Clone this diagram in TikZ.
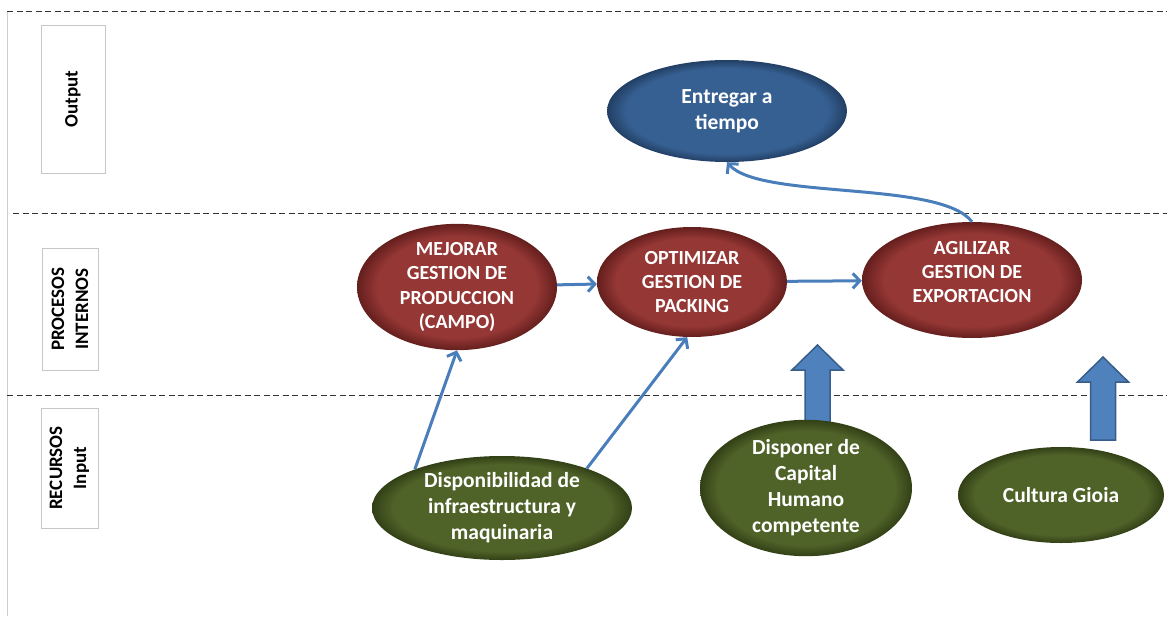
\documentclass[tikz,border=0pt]{standalone}
\usepackage{fontspec}
\setmainfont{Carlito}
\usepackage{tikz}
\usetikzlibrary{shapes.geometric,arrows.meta}
\definecolor{redmain}{RGB}{149,55,53}
\definecolor{reddark}{RGB}{100,31,29}
\definecolor{bluemain}{RGB}{54,96,146}
\definecolor{bluedark}{RGB}{34,63,100}
\definecolor{greenmain}{RGB}{79,98,40}
\definecolor{greendark}{RGB}{50,64,22}
\definecolor{flowblue}{RGB}{74,126,187}
\definecolor{bigfill}{RGB}{79,129,189}
\definecolor{bigedge}{RGB}{56,93,138}
\definecolor{lanegray}{RGB}{200,205,215}
\pgfdeclareradialshading{redbevel}{\pgfpoint{0bp}{0bp}}{color(0bp)=(redmain); color(20bp)=(redmain); color(25bp)=(reddark); color(50bp)=(reddark)}
\pgfdeclareradialshading{bluebevel}{\pgfpoint{0bp}{0bp}}{color(0bp)=(bluemain); color(21bp)=(bluemain); color(25bp)=(bluedark); color(50bp)=(bluedark)}
\pgfdeclareradialshading{greenbevel}{\pgfpoint{0bp}{0bp}}{color(0bp)=(greenmain); color(21bp)=(greenmain); color(25bp)=(greendark); color(50bp)=(greendark)}
\tikzset{
  goal/.style={ellipse, inner sep=0pt, shading=#1, text=white, align=center,
    font=\fontsize{21.5}{26}\selectfont\bfseries},
  caps/.style={font=\fontsize{20}{24.4}\selectfont\bfseries},
  lanelabel/.style={rotate=90, draw=black!22, fill=white, align=center,
    inner sep=0pt, font=\fontsize{19}{24}\selectfont\bfseries},
  lane/.style={line width=1pt, dash pattern=on 6pt off 3.5pt, draw=black!80},
  flow/.style={draw=flowblue, line width=3pt,
    -{Straight Barb[length=7pt,width=15pt,line width=3pt]}},
  bigarrow/.style={fill=bigfill, draw=bigedge, line width=1.5pt, line join=miter}
}
\begin{document}
\begin{tikzpicture}[x=1pt, y=-1pt]
  \useasboundingbox (0,0) rectangle (1167,616);
			%   %   %   %   %   %   %   %   %   %   %
			%   Lanes
				\draw[draw=lanegray, line width=1pt] (7,11) -- (7,616);
				\draw[lane] (7,11) -- (1167,11);
				\draw[lane] (13,213) -- (1167,213);
				\draw[lane] (7,395) -- (1167,395);
				\node[lanelabel, minimum width=148pt, minimum height=64pt] (lout) at (73,99) {Output};
				\node[lanelabel, minimum width=122pt, minimum height=56pt] (lproc) at (70,309) {PROCESOS\\INTERNOS};
				\node[lanelabel, minimum width=120pt, minimum height=57pt] (lrec) at (69.5,468) {RECURSOS\\Input};
			%   %   %   %   %   %   %   %   %   %   %
			%   Block arrows
				\foreach \cx/\cy in {817.5/428, 1103/440}
				  \draw[bigarrow] (\cx-12.5,\cy) -- (\cx-12.5,\cy-58) -- (\cx-25.5,\cy-58) -- (\cx,\cy-83)
				    -- (\cx+25.5,\cy-58) -- (\cx+12.5,\cy-58) -- (\cx+12.5,\cy) -- cycle;
			%   %   %   %   %   %   %   %   %   %   %
			%   Output
				\node[goal=bluebevel, minimum width=240pt, minimum height=102pt] (entregar) at (727,111) {Entregar a\\tiempo};
			%   %   %   %   %   %   %   %   %   %   %
			%   Procesos internos
				\node[goal=redbevel, caps, minimum width=200pt, minimum height=118pt] (mejorar) at (457,287) {MEJORAR\\GESTION DE\\PRODUCCION\\(CAMPO)};
				\node[goal=redbevel, caps, minimum width=190pt, minimum height=110pt] (optimizar) at (692,282) {OPTIMIZAR\\GESTION DE\\PACKING};
				\node[goal=redbevel, caps, minimum width=220pt, minimum height=116pt] (agilizar) at (972,280) {AGILIZAR\\GESTION DE\\EXPORTACION\\[-8.4pt]};
			%   %   %   %   %   %   %   %   %   %   %
			%   Recursos
				\node[goal=greenbevel, minimum width=260pt, minimum height=104pt] (infra) at (502,508) {Disponibilidad de\\infraestructura y\\maquinaria};
				\node[goal=greenbevel, minimum width=212pt, minimum height=120pt] (capital) at (806,488) {Disponer de\\Capital\\Humano\\competente};
				\node[goal=greenbevel, minimum width=206pt, minimum height=96pt] (cultura) at (1061,495) {Cultura Gioia};
			%   %   %   %   %   %   %   %   %   %   %
			%   Connectors
				\draw[flow] (mejorar) -- (optimizar);
				\draw[flow] (optimizar) -- (agilizar);
				\draw[flow] (infra.156) -- (mejorar.south);
				\draw[flow] (infra.25) -- (optimizar.265);
				\draw[flow] (agilizar.north) .. controls (940,180) and (760,200) .. (entregar.south);
\end{tikzpicture}
\end{document}
